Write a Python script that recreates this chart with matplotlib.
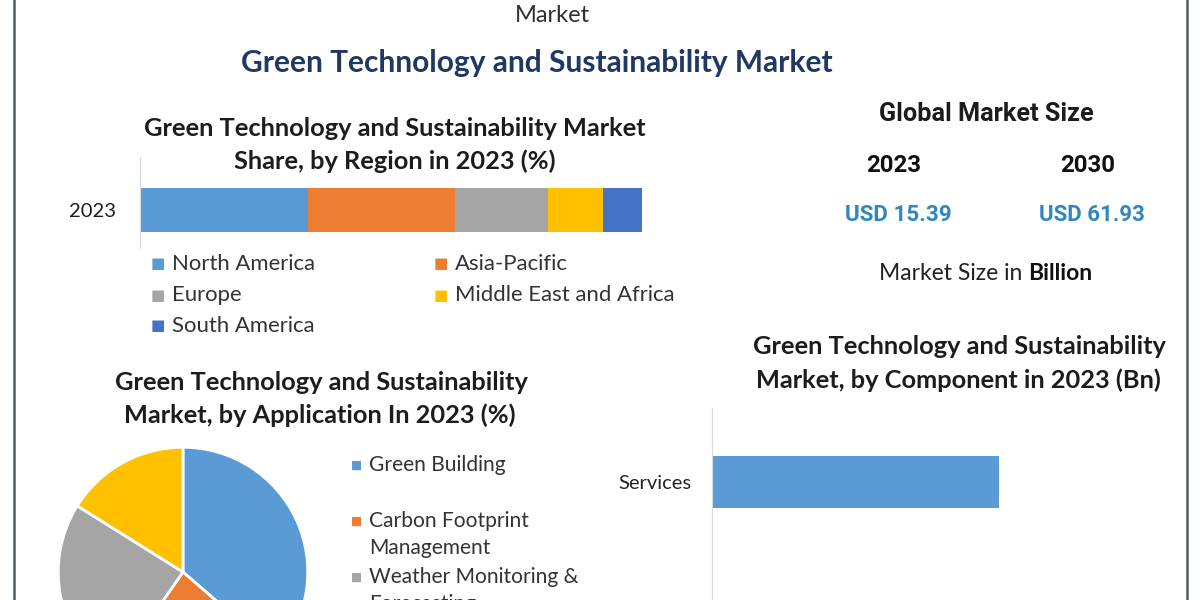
import matplotlib
matplotlib.use("Agg")
import matplotlib.pyplot as plt
from matplotlib.lines import Line2D
import numpy as np

# ---------------- data ----------------
region_names = ["North America", "Asia-Pacific", "Europe", "Middle East and Africa", "South America"]
region_share = [33.5, 29.2, 18.5, 11.1, 7.7]
region_colors = ["#5B9BD5", "#ED7D31", "#A5A5A5", "#FFC000", "#4472C4"]
region_year = ["2023"]

app_names = ["Green Building", "Carbon Footprint\nManagement", "Weather Monitoring &\nForecasting",
             "Air & Water Pollution\nMonitoring"]
app_share = [36.4, 23.3, 24.2, 16.1]
app_colors = ["#5B9BD5", "#ED7D31", "#A5A5A5", "#FFC000"]

component_names = ["Services"]
component_values = [5.9]

market_years = ["2023", "2030"]
market_values = [15.39, 61.93]

# ---------------- figure ----------------
W, H = 1200, 600
fig = plt.figure(figsize=(12, 6), dpi=100)
fig.patch.set_facecolor("white")
renderer = fig.canvas.get_renderer()

TXT = "#1c1c1c"
FONT = ["Lato", "DejaVu Sans"]
FONT2 = ["Roboto", "DejaVu Sans"]


def fx(x):
    return x / W


def fy(y):
    return 1 - y / H


def put(x, y, s, size=12, width=None, ha="center", family=FONT, **kw):
    t = fig.text(fx(x), fy(y), s, ha=ha, va="center", fontsize=size, family=family, **kw)
    if width is not None:
        bb = t.get_window_extent(renderer=renderer)
        t.set_fontsize(size * width / bb.width)
    return t


# border lines
fig.add_artist(Line2D([fx(14), fx(14)], [0, 1], color="#4d5b61", lw=1.8))
fig.add_artist(Line2D([fx(1187), fx(1187)], [0, 1], color="#4d5b61", lw=1.8))

# top texts
put(552, 15, "Market", width=75, color="#303030")
put(537, 63, "Green Technology and Sustainability Market", width=589,
    color="#1F3864", weight="bold")

# ---------------- region stacked bar ----------------
t = put(395, 129, "Green Technology and Sustainability Market", width=500, color=TXT, weight="bold")
fs_sub = t.get_fontsize()
put(395, 161, "Share, by Region in 2023 (%)", size=fs_sub, color=TXT, weight="bold")

ax1 = fig.add_axes([fx(140), fy(248), (642 - 140) / W, (248 - 157) / H])
left = 0
for val, col in zip(region_share, region_colors):
    ax1.barh([0], [val], left=left, height=0.44, color=col)
    left += val
ax1.set_xlim(0, sum(region_share))
ax1.set_ylim(-0.38, 0.53)
ax1.set_xticks([])
ax1.set_yticks([0])
ax1.set_yticklabels(region_year, fontsize=14.5, family=FONT, color=TXT)
ax1.tick_params(axis="y", length=0, pad=17)
for s in ["top", "right", "bottom"]:
    ax1.spines[s].set_visible(False)
ax1.spines["left"].set_color("#d9d9d9")
ax1.patch.set_alpha(0)

# region legend
lt = put(172, 264, region_names[0], width=143, ha="left", color="#333333")
fs_leg = lt.get_fontsize()
lt.remove()
col_x = [158, 441]
row_y = [264, 295, 326]
for i, (name, col) in enumerate(zip(region_names, region_colors)):
    r, c = divmod(i, 2)
    put(col_x[c], row_y[r], "\u25A0", size=11, color=col, family=["DejaVu Sans"])
    put(col_x[c] + 14, row_y[r], name, size=fs_leg, ha="left", color="#333333")

# ---------------- pie ----------------
t = put(321, 383, "Green Technology and Sustainability", width=412, color=TXT, weight="bold")
fs_pie = t.get_fontsize()
put(320, 415, "Market, by Application In 2023 (%)", size=fs_pie, color=TXT, weight="bold")

ax2 = fig.add_axes([fx(57), fy(698), 252 / W, 252 / H])
ax2.pie(app_share, colors=app_colors, startangle=90, counterclock=False,
        wedgeprops=dict(edgecolor="white", linewidth=2))
ax2.set_xlim(-1.01, 1.01)
ax2.set_ylim(-1.01, 1.01)
ax2.set_aspect("equal")
ax2.axis("off")

lt = put(369, 465, app_names[0], width=137, ha="left", color="#333333")
fs_pl = lt.get_fontsize()
lt.remove()
for i, (name, col) in enumerate(zip(app_names, app_colors)):
    y0 = 465 + 56 * i
    put(357, y0, "\u25A0", size=8.5, color=col, family=["DejaVu Sans"])
    for j, line in enumerate(name.split("\n")):
        put(369, y0 + 27.5 * j, line, size=fs_pl, ha="left", color="#333333")

# ---------------- global market size ----------------
put(986, 114, "Global Market Size", width=213, color=TXT, weight="bold", family=FONT2)
for x, yr, val in zip([894, 1088], market_years, market_values):
    put(x, 165, yr, width=55, color="#111111", weight="bold", family=FONT2)
    put(x + 4, 215, f"USD {val:.2f}", width=106, color="#2F86C0", weight="bold",
        family=FONT2)

# "Market Size in Billion" (mixed weight)
base = 14
t1 = put(0, 273, "Market Size in", size=base, ha="left", color="#222222")
t2 = put(0, 273, "Billion", size=base, ha="left", color="#111111", weight="bold")
w1 = t1.get_window_extent(renderer=renderer).width
w2 = t2.get_window_extent(renderer=renderer).width
gap = 0.25 * base * 100 / 72
scale = 214 / (w1 + gap + w2)
t1.set_fontsize(base * scale)
t2.set_fontsize(base * scale)
xl = 986 - 107
t1.set_x(fx(xl))
t2.set_x(fx(xl + (w1 + gap) * scale))

# ---------------- component bar ----------------
t = put(959, 346, "Green Technology and Sustainability", width=412, color=TXT, weight="bold")
fs_c = t.get_fontsize()
put(958, 380, "Market, by Component in 2023 (Bn)", size=fs_c, color=TXT, weight="bold")

ax3 = fig.add_axes([fx(712), fy(700), (1150 - 712) / W, (700 - 408) / H])
ax3.barh(np.arange(len(component_names)), component_values, height=0.35, color="#5B9BD5")
ax3.set_xlim(0, 9)
ax3.set_ylim(1.473, -0.5)
ax3.set_xticks([])
ax3.set_yticks(np.arange(len(component_names)))
ax3.set_yticklabels(component_names, fontsize=14.5, family=FONT, color="#222222")
ax3.tick_params(axis="y", length=0, pad=15)
for s in ["top", "right", "bottom"]:
    ax3.spines[s].set_visible(False)
ax3.spines["left"].set_color("#d9d9d9")
ax3.patch.set_alpha(0)

fig.savefig("out.png", dpi=100)
